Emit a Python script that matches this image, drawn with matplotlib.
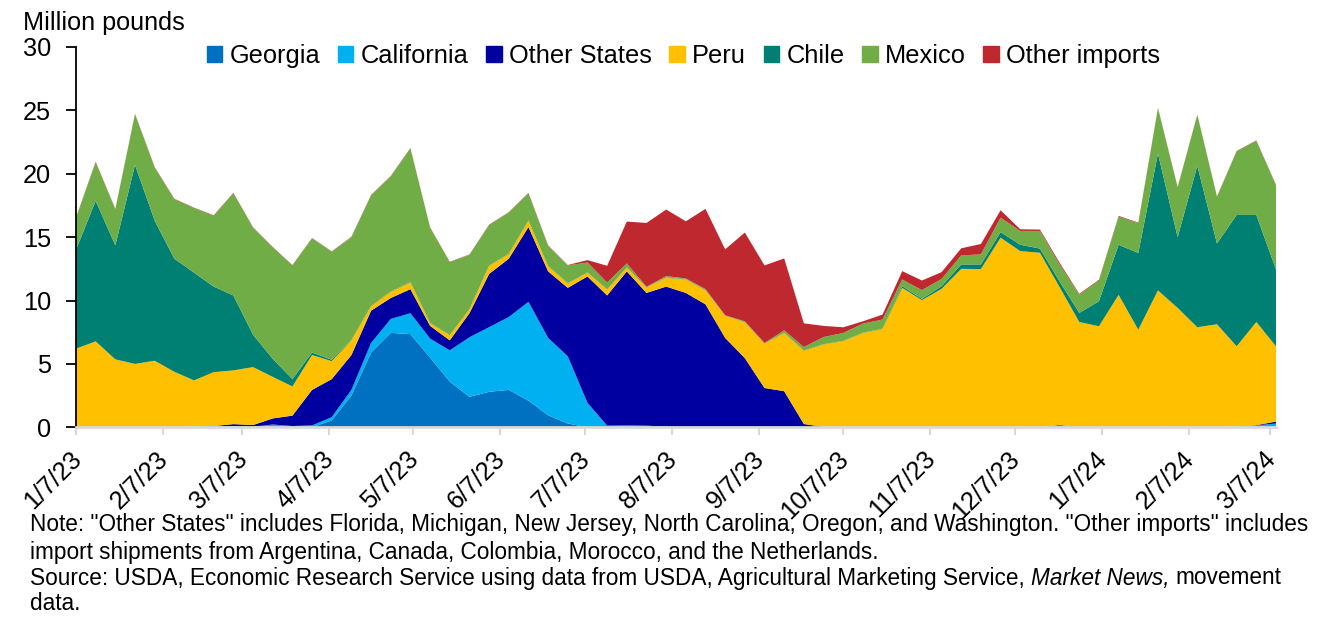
import matplotlib
matplotlib.use("Agg")
import matplotlib.pyplot as plt
import matplotlib.transforms as mtrans
from matplotlib.patches import Patch
import pandas as pd

plt.rcParams['font.family'] = ['Liberation Sans', 'DejaVu Sans']

weeks = pd.date_range("2023-01-07", periods=62, freq="7D")
tick_dates = pd.to_datetime(["2023-%02d-07" % m for m in range(1, 13)] + ["2024-01-07", "2024-02-07", "2024-03-07"])
tick_labels = ["%d/7/23" % m for m in range(1, 13)] + ["1/7/24", "2/7/24", "3/7/24"]

georgia = [0,0,0,0,0,0,0,0,0,0,0,0,0,.55,2.5,5.9,7.45,7.35,5.5,3.6,2.4,2.8,2.95,2.1,.95,.3] + [0]*36
california = [0,0,0,0,0,.02,.05,.08,.1,.05,.22,.1,.15,.25,.45,.75,1.1,1.65,1.5,2.47,4.7,5.1,5.75,7.8,6.1,5.3,1.93,.13,.15,.13,.05,
              0,0,0,0,0,0,0,0,0,0,0,0,0,0,0,0,0,0,0,.2,0,0,0,0,.03,.05,0,.03,.05,.15,.3]
other_states = [0,0,0,0,0,0,0,.02,.15,.13,.48,.82,2.8,3.0,2.75,2.55,1.65,1.9,1.0,.79,1.9,4.2,4.6,5.9,5.25,5.4,9.97,10.27,12.15,10.47,11.05,
                10.6,9.7,7.05,5.46,3.1,2.85,.26,.03,0,0,0,0,0,0,0,0,0,0,0,0,0,0,0,0,0,0,0,0,0,.02,.15]
peru = [6.2,6.78,5.36,5.0,5.25,4.36,3.65,4.25,4.24,4.57,3.28,2.3,2.75,1.42,1.16,.35,.49,.52,.23,.4,.3,.64,.37,.5,.4,.35,.3,.47,.3,.43,.7,
        1.06,1.1,1.75,2.82,3.5,4.59,5.78,6.51,6.8,7.44,7.76,11.0,10.03,10.92,12.5,12.48,14.96,13.9,13.77,10.86,8.31,7.97,10.45,7.7,10.77,9.37,7.89,8.1,6.34,8.14,5.94]
chile = [7.8,11.08,8.99,15.7,11.05,8.92,8.5,6.75,5.91,2.55,1.42,.58,.2,.11,.04,.03,.03,.03,.03,.02,.02,.02,.02,.02,.02,.02,.02,.02,.02,.02,.02,
         .02,.02,.02,.02,.02,.02,.02,.02,.02,.02,.02,.13,.1,.21,.35,.37,.44,.5,.33,.44,.71,1.98,3.95,6.05,10.8,5.58,12.74,6.37,10.36,8.44,6.06]
mexico = [2.5,3.04,2.85,4.0,4.2,4.7,5.1,5.6,8.07,8.45,8.8,8.97,9.0,8.52,8.1,8.72,9.08,10.55,7.49,5.75,4.28,3.2,3.25,2.15,1.58,1.4,.78,.53,.31,.03,.11,
          .06,.08,.02,.06,.03,.19,.27,.56,.62,.72,.72,.53,.69,.57,.71,.79,1.14,1.09,1.39,1.35,1.45,1.63,2.22,2.35,3.57,3.92,4.01,3.68,5.02,5.85,6.65]
other_imports = [.05,.05,.03,.03,.03,.03,.03,.03,.03,.03,.03,.03,.03,.03,.03,.03,.03,.03,.03,.03,.03,.03,.03,.03,.05,.03,.19,1.32,3.3,5.04,5.25,
                 4.51,6.33,5.2,7.0,6.12,5.67,1.87,.88,.45,.18,.39,.66,.76,.54,.56,.82,.58,.13,.11,.13,.06,.06,.06,.05,.03,.03,.03,.03,.03,.03,.03]

series_names = ["Georgia", "California", "Other States", "Peru", "Chile", "Mexico", "Other imports"]
series_colors = ["#0070C0", "#00B0F0", "#0000A0", "#FFC000", "#008072", "#70AD47", "#C0282F"]

fig = plt.figure(figsize=(13.21, 6.21), dpi=100)
W, H = 1321, 621
ax = fig.add_axes([76/W, 1-427.3/H, 1200/W, (427.3-47)/H])
ax.stackplot(weeks, georgia, california, other_states, peru, chile, mexico, other_imports,
             colors=series_colors, linewidth=0)

ax.set_xlim(weeks[0], weeks[-1])
ax.set_ylim(0, 30)
ax.set_yticks(range(0, 31, 5))
ax.set_xticks(tick_dates)
ax.set_xticklabels(tick_labels, rotation=45, ha='right', rotation_mode='anchor')
ax.tick_params(axis='y', labelsize=18.3, length=7, width=1.3, color='black', pad=11)
ax.tick_params(axis='x', labelsize=18.3, length=5.5, width=1.5, color='#D9D9D9', pad=7)
offset = mtrans.ScaledTranslation(-7/100, -2/100, fig.dpi_scale_trans)
for lab in ax.get_xticklabels():
    lab.set_transform(lab.get_transform() + offset)
for s in ['top', 'right']:
    ax.spines[s].set_visible(False)
ax.spines['left'].set_linewidth(1.3)
ax.spines['bottom'].set_color('#D9D9D9')
ax.spines['bottom'].set_linewidth(2)
ax.set_zorder(2)

handles = [Patch(color=c, label=n) for n, c in zip(series_names, series_colors)]
ax.legend(handles=handles, ncol=7, loc='center left', bbox_to_anchor=((206.5-76)/1200, 1-(56-47)/380.3),
          frameon=False, fontsize=18.3, handlelength=0.62, handleheight=0.62, handletextpad=0.28,
          columnspacing=0.69, borderpad=0, borderaxespad=0)

fig.text(23/W, 1-23/H, "Million pounds", fontsize=18.2, va='center', ha='left')

note_size = 16.28
lines = [
    (30, 525, 'Note: "Other States" includes Florida, Michigan, New Jersey, North Carolina, Oregon, and Washington. "Other imports" includes', 'normal'),
    (30, 552, 'import shipments from Argentina, Canada, Colombia, Morocco, and the Netherlands.', 'normal'),
    (30, 578, 'Source: USDA, Economic Research Service using data from USDA, Agricultural Marketing Service,', 'normal'),
    (1031, 578, 'Market News,', 'italic'),
    (1175, 578, 'movement', 'normal'),
    (30, 604, 'data.', 'normal'),
]
for x, y, t, st in lines:
    fig.text(x/W, 1-y/H, t, fontsize=note_size, va='center', ha='left', style=st)

fig.savefig("out.png", dpi=100)
